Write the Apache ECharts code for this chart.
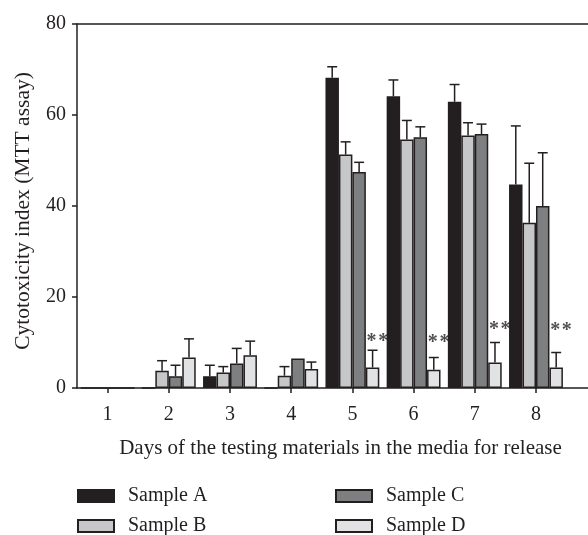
<!DOCTYPE html>
<html>
<head>
<meta charset="utf-8">
<script src="https://cdn.jsdelivr.net/npm/echarts@6/dist/echarts.min.js"></script>
<style>
  html, body { margin: 0; padding: 0; background: #fff; }
  #chart { width: 588px; height: 535px; }
</style>
</head>
<body>
<div id="chart"></div>
<script>
// 细胞毒性指数柱状图（MTT）· 四个样品 + 误差线

const days = [1, 2, 3, 4, 5, 6, 7, 8];
const yTicks = [0, 20, 40, 60, 80];

const sampleA = [0, 0, 2.6, 0, 68.2, 64.1, 62.9, 44.7];
const sampleAErr = [0, 0, 2.4, 0, 2.4, 3.6, 3.8, 12.9];
const sampleB = [0, 3.8, 3.4, 2.7, 51.3, 54.6, 55.5, 36.3];
const sampleBErr = [0, 2.2, 1.3, 2.0, 2.8, 4.2, 2.8, 13.1];
const sampleC = [0, 2.6, 5.4, 6.5, 47.5, 55.1, 55.8, 40.0];
const sampleCErr = [0, 2.4, 3.3, 0, 2.1, 2.3, 2.2, 11.7];
const sampleD = [0, 6.7, 7.2, 4.2, 4.5, 4.0, 5.6, 4.5];
const sampleDErr = [0, 4.1, 3.1, 1.5, 3.8, 2.7, 4.4, 3.3];

// 显著性标记 "**"
const starDays = [5, 6, 7, 8];
const starY = [11.0, 10.8, 13.6, 13.4];

const FONT = '"Liberation Serif", "DejaVu Serif", serif';
const INK = '#231f20';
const BAR_FRAC = 0.22;

const samples = [
  { name: 'Sample A', values: sampleA, errs: sampleAErr, color: '#231f20' },
  { name: 'Sample B', values: sampleB, errs: sampleBErr, color: '#c6c7c8' },
  { name: 'Sample C', values: sampleC, errs: sampleCErr, color: '#7e7f81' },
  { name: 'Sample D', values: sampleD, errs: sampleDErr, color: '#e1e2e3' },
];

const chart = echarts.init(document.getElementById('chart'), null, { renderer: 'canvas' });

function errorBarRender(slot) {
  return (params, api) => {
    const err = api.value(2);
    if (!err) return null;
    const x = api.value(0);
    const v = api.value(1);
    const bw = api.size([BAR_FRAC, 0])[0];
    const p0 = api.coord([x, v]);
    const p1 = api.coord([x, v + err]);
    const cx = p0[0] + (slot - 1.5) * bw;
    const half = bw * 0.37;
    const style = { stroke: INK, lineWidth: 1.5 };
    return {
      type: 'group',
      children: [
        { type: 'line', shape: { x1: cx, y1: p0[1], x2: cx, y2: p1[1] }, style },
        { type: 'line', shape: { x1: cx - half, y1: p1[1], x2: cx + half, y2: p1[1] }, style },
      ],
    };
  };
}

const barSeries = samples.map(s => ({
  name: s.name,
  type: 'bar',
  barWidth: (BAR_FRAC * 100) + '%',
  barGap: '0%',
  data: days.map((d, i) => [d, s.values[i]]),
  itemStyle: { color: s.color, borderColor: INK, borderWidth: 1.5 },
  emphasis: { disabled: true },
  z: 2,
}));

const errSeries = samples.map((s, slot) => ({
  name: s.name + ' err',
  type: 'custom',
  renderItem: errorBarRender(slot),
  encode: { x: 0, y: 1 },
  data: days.map((d, i) => [d, s.values[i], s.errs[i]]),
  z: 3,
}));

const tickText = { fontFamily: FONT, fontSize: 20, color: INK };
const nameText = { fontFamily: FONT, fontSize: 21, color: INK };

function legendColumn(names, left) {
  return {
    data: names,
    orient: 'vertical',
    left,
    top: 486,
    height: 70,
    padding: 0,
    icon: 'rect',
    itemWidth: 36,
    itemHeight: 12,
    itemGap: 10,
    textStyle: { fontFamily: FONT, fontSize: 20, color: INK, padding: [0, 0, 0, 9] },
    selectedMode: false,
  };
}

chart.setOption({
  animation: false,
  grid: { left: 77, right: 0, top: 24, bottom: 147 },
  legend: [
    legendColumn(['Sample A', 'Sample B'], 77),
    legendColumn(['Sample C', 'Sample D'], 335),
  ],
  xAxis: [
    {
      type: 'value',
      min: 0.5,
      max: 8.85,
      name: 'Days of the testing materials in the media for release',
      nameLocation: 'middle',
      nameGap: 50,
      nameTextStyle: { ...nameText, padding: [0, 0, 0, 16] },
      axisLine: { show: true, lineStyle: { color: INK, width: 1.5 } },
      axisTick: { show: true, length: 5, customValues: days, lineStyle: { color: INK, width: 1.5 } },
      axisLabel: { customValues: days, margin: 17, ...tickText },
      splitLine: { show: false },
    },
    {
      type: 'value',
      position: 'top',
      min: 0.5,
      max: 8.85,
      axisLine: { show: true, onZero: false, lineStyle: { color: INK, width: 1.5 } },
      axisTick: { show: false },
      axisLabel: { show: false },
      splitLine: { show: false },
    },
  ],
  yAxis: {
    type: 'value',
    min: 0,
    max: 80,
    interval: 20,
    name: 'Cytotoxicity index (MTT assay)',
    nameLocation: 'middle',
    nameGap: 43,
    nameTextStyle: { fontFamily: FONT, fontSize: 21.5, color: INK, padding: [0, 10, 0, 0] },
    axisLine: { show: true, lineStyle: { color: INK, width: 1.5 } },
    axisTick: { show: true, length: 5, lineStyle: { color: INK, width: 1.5 } },
    axisLabel: { margin: 11, ...tickText, formatter: v => (yTicks.includes(v) ? String(v) : '') },
    splitLine: { show: false },
  },
  series: [
    ...barSeries,
    ...errSeries,
    {
      name: 'stars',
      type: 'scatter',
      symbolSize: 1,
      itemStyle: { color: 'rgba(0,0,0,0)' },
      data: starDays.map((d, i) => [d, starY[i]]),
      label: {
        show: true,
        position: 'inside',
        offset: [25, 4],
        formatter: '*\u200A*',
        fontFamily: FONT,
        fontWeight: 'bold',
        fontSize: 20,
        color: INK,
      },
      emphasis: { disabled: true },
      z: 4,
    },
  ],
});
</script>
</body>
</html>
